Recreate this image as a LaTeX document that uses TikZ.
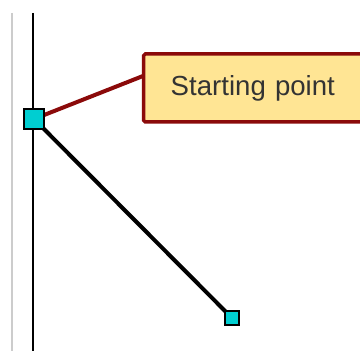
\documentclass[tikz,border=0pt]{standalone}
\usepackage{fontspec}
\setmainfont{Liberation Sans}
\usetikzlibrary{backgrounds}
\definecolor{handlecyan}{HTML}{00CED1}
\definecolor{boxfill}{HTML}{FFE594}
\definecolor{boxdraw}{HTML}{8B0A0A}
\definecolor{guidegray}{HTML}{CCCCCC}
\definecolor{txtgray}{HTML}{333333}
\begin{document}
\begin{tikzpicture}[x=1pt,y=1pt,
  handle/.style={draw=black,line width=2.4pt,fill=handlecyan,inner sep=0pt,minimum size=#1},
  callout/.style={draw=boxdraw,line width=3.5pt,fill=boxfill,rounded corners=1.5pt,
    anchor=west,minimum height=68pt,text width=190pt,align=left,inner xsep=27pt,
    text=txtgray,font=\fontsize{27.6}{30}\selectfont},
  guide/.style={line width=1.5pt},
  link/.style={line width=4pt}]
\useasboundingbox (0,0) rectangle (360,351);
\node[callout] (box) at (142,263) {Starting point};
\node[handle=20pt] (start) at (34,232) {};
\node[handle=14pt] (end) at (232,33) {};
\begin{pgfonlayer}{background}
\coordinate (gtop) at (12,338);
\coordinate (gbot) at (12,0);
\coordinate (btop) at (33,338);
\coordinate (bbot) at (33,0);
\coordinate (tip) at (143,275);
\draw[guide,guidegray] (gtop) -- (gbot);
\draw[guide,black] (btop) -- (bbot);
\draw[link,boxdraw] (start.center) -- (tip);
\draw[link,black] (start.center) -- (end.center);
\end{pgfonlayer}
\end{tikzpicture}
\end{document}
